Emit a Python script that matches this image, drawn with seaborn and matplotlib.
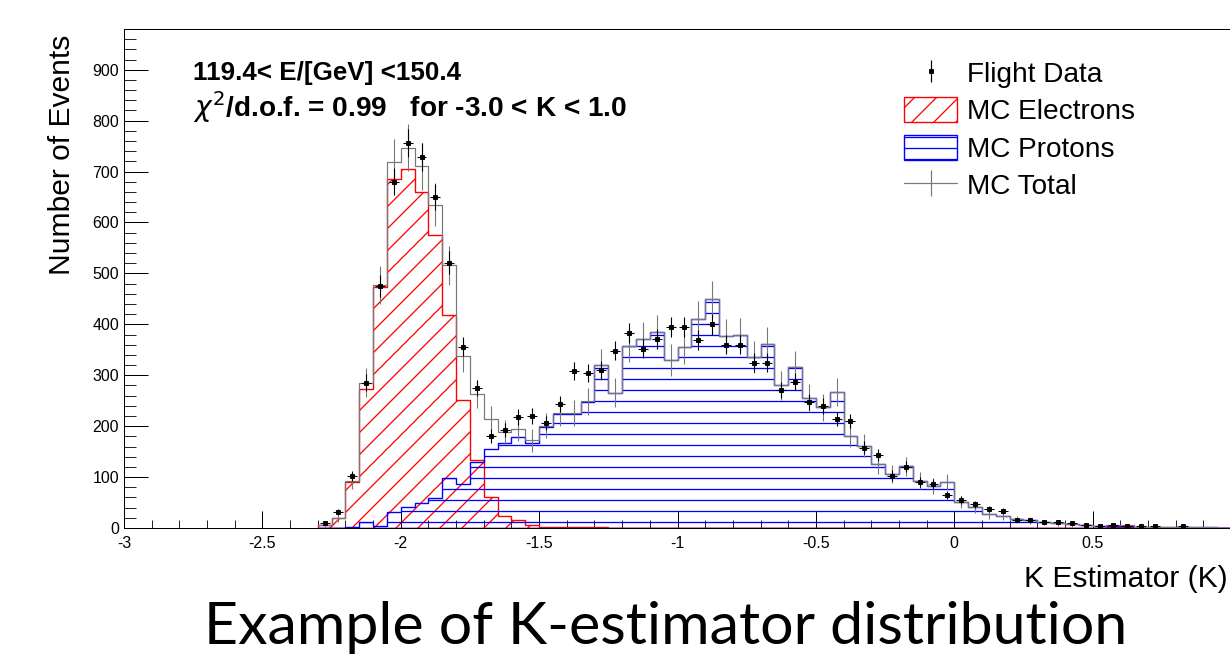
import numpy as np
import pandas as pd
import matplotlib
matplotlib.use("Agg")
import matplotlib.pyplot as plt
import matplotlib.patches as mpatches
from matplotlib.lines import Line2D
from matplotlib.ticker import MultipleLocator
import seaborn as sns

# bins of 0.05 in K, starting at -2.3 (nothing below)
k_low = -2.3
bin_width = 0.05

electrons = [5, 20, 91, 273, 474, 686, 705, 660, 576, 418,
             252, 133, 60, 23, 16, 6, 2, 2, 1, 1,
             1, 0, 0, 0, 0, 0, 0, 0, 0, 0,
             0, 0, 0, 0, 0, 0, 0, 0, 0, 0,
             0, 0, 0, 0, 0, 0, 0, 0, 0, 0,
             0, 0, 0, 0, 0, 0, 0, 2, 2, 0,
             0, 0, 1, 0, 0, 0]

protons = [0, 0, 2, 12, 3, 32, 42, 50, 59, 98,
           86, 130, 155, 166, 178, 166, 199, 223, 224, 248,
           320, 266, 358, 372, 385, 330, 355, 411, 450, 378,
           380, 336, 362, 280, 317, 256, 237, 267, 181, 162,
           126, 106, 121, 93, 82, 90, 51, 41, 27, 24,
           17, 15, 11, 9, 7, 6, 4, 3, 3, 2,
           2, 1, 1, 1, 1, 0]

flight = [10, 32, 102, 285, 476, 680, 757, 729, 650, 521,
          356, 275, 181, 193, 218, 220, 206, 243, 309, 304,
          310, 348, 383, 352, 371, 394, 394, 369, 400, 360,
          360, 325, 325, 271, 287, 247, 240, 214, 210, 158,
          143, 103, 120, 91, 86, 65, 55, 47, 37, 34,
          16, 16, 12, 11, 9, 6, 4, 6, 4, 4,
          3, 0, 3, 0, 0, 0]

x_ticks = [-3, -2.5, -2, -1.5, -1, -0.5, 0, 0.5]
x_ticklabels = ["-3", "-2.5", "-2", "-1.5", "-1", "-0.5", "0", "0.5"]

DPI = 66
W, H = 1230, 658


def pt(px):
    return px * 72 / DPI


sns.set_theme(style="ticks")
plt.rcParams["font.family"] = ["Liberation Sans", "DejaVu Sans"]
plt.rcParams["axes.unicode_minus"] = False
plt.rcParams["hatch.linewidth"] = 1.4
plt.rcParams["text.color"] = "black"

edges = np.round(k_low + bin_width * np.arange(len(electrons) + 1), 3)
centers = edges[:-1] + bin_width / 2
bin_list = edges.tolist()
df = pd.DataFrame({"K": centers, "electrons": electrons,
                   "protons": protons, "flight": flight})
df["total"] = df["electrons"] + df["protons"]

fig = plt.figure(figsize=(W / DPI, H / DPI), dpi=DPI)
ax = fig.add_axes([124 / W, 130 / H, 1107 / W, 499 / H])

with plt.rc_context({"hatch.color": "red"}):
    sns.histplot(data=df, x="K", weights="electrons", bins=bin_list,
                 element="step", fill=True, color="red", facecolor="none",
                 hatch="/", linewidth=1.5, ax=ax)
with plt.rc_context({"hatch.color": "blue"}):
    sns.histplot(data=df, x="K", weights="protons", bins=bin_list,
                 element="step", fill=True, color="blue", facecolor="none",
                 hatch="-", linewidth=1.5, ax=ax)
sns.histplot(data=df, x="K", weights="total", bins=bin_list,
             element="step", fill=False, color="#777777", linewidth=1.3, ax=ax)

mc = df[df["total"] > 0]
ax.errorbar(mc["K"], mc["total"], yerr=1.7 * np.sqrt(mc["total"]),
            fmt="none", ecolor="#777777", elinewidth=1.2)
fd = df[df["flight"] > 0]
ax.errorbar(fd["K"], fd["flight"], yerr=np.sqrt(fd["flight"]), xerr=0.018,
            fmt="s", ms=pt(4.5), color="black", ecolor="black",
            elinewidth=1.2, capsize=0)

ax.set_xlim(-3, 1)
ax.set_ylim(0, 980)
ax.set_xlabel("")
ax.set_ylabel("")
ax.set_xticks(x_ticks)
ax.set_xticklabels(x_ticklabels)
ax.xaxis.set_minor_locator(MultipleLocator(0.1))
ax.yaxis.set_major_locator(MultipleLocator(100))
ax.yaxis.set_minor_locator(MultipleLocator(20))
ax.tick_params(direction="in", labelsize=pt(16), colors="black", width=1.1)
ax.tick_params(which="minor", direction="in", width=1.1)
ax.xaxis.set_tick_params(which="major", length=pt(17), pad=pt(8))
ax.xaxis.set_tick_params(which="minor", length=pt(8))
ax.yaxis.set_tick_params(which="major", length=pt(24), pad=pt(5))
ax.yaxis.set_tick_params(which="minor", length=pt(12))
for s in ax.spines.values():
    s.set_visible(True)
    s.set_color("black")
    s.set_linewidth(1.1)

fig.text(193 / W, 1 - 80 / H, "119.4< E/[GeV] <150.4", fontsize=pt(26),
         fontweight="bold", ha="left", va="baseline")
fig.text(193 / W, 1 - 117 / H,
         r"$\chi^{2}$/d.o.f. = 0.99   for -3.0 < K < 1.0",
         fontsize=pt(28), fontweight="bold", ha="left", va="baseline")

fig.text(62 / W, 1 - 155 / H, "Number of Events", rotation=90,
         fontsize=pt(30), ha="center", va="center")
fig.text(1228 / W, 1 - 587 / H, "K Estimator (K)", fontsize=pt(30),
         ha="right", va="baseline")
fig.text(666 / W, 1 - 644 / H, "Example of K-estimator distribution",
         family=["Lato", "DejaVu Sans"], fontsize=pt(59),
         ha="center", va="baseline")

handles = [
    (Line2D([], [], ls="none", marker="|", ms=pt(22), mew=1.3, color="black"),
     Line2D([], [], ls="none", marker="s", ms=pt(4.5), color="black")),
    mpatches.Patch(facecolor="none", edgecolor="red", hatch="/", lw=1.5),
    mpatches.Patch(facecolor="none", edgecolor="blue", hatch="-", lw=1.5),
    Line2D([], [], color="#777777", lw=1.3, marker="|", ms=pt(26), mew=1.3),
]
labels = ["Flight Data", "MC Electrons", "MC Protons", "MC Total"]
fig.legend(handles, labels, loc="upper left",
           bbox_to_anchor=(904 / W, 1 - 60 / H), frameon=False,
           fontsize=pt(28), handlelength=53 / 28, handleheight=1.0,
           handletextpad=0.35, labelspacing=0.33, borderpad=0,
           borderaxespad=0)

fig.savefig("out.png", dpi=DPI)
